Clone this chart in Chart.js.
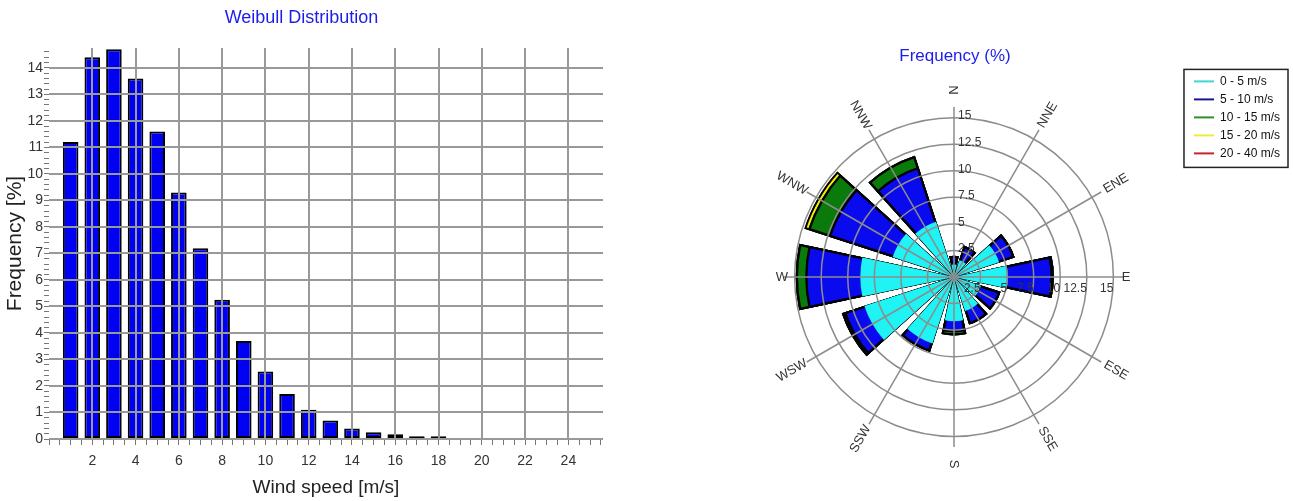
<!DOCTYPE html>
<html>
<head>
<meta charset="utf-8">
<script src="https://cdn.jsdelivr.net/npm/chart.js@4.4.1/dist/chart.umd.min.js"></script>
<style>
  html, body { margin: 0; padding: 0; background: #fff; }
  #weibull { position: absolute; left: 0; top: 0; }
  #rose { position: absolute; left: 615px; top: 0; }
</style>
</head>
<body>
<canvas id="weibull" width="616" height="501"></canvas>
<canvas id="rose" width="678" height="501"></canvas>
<script>
// --- Weibull histogram ---
const windSpeeds = [1, 2, 3, 4, 5, 6, 7, 8, 9, 10, 11, 12, 13, 14, 15, 16, 17, 18];
const frequency = [11.2, 14.4, 14.7, 13.6, 11.6, 9.3, 7.2, 5.25, 3.7, 2.55, 1.7, 1.1, 0.7, 0.4, 0.25, 0.18, 0.1, 0.1];

// --- Wind rose, % per sector for each speed bin ---
const directions = ["N", "NNE", "ENE", "E", "ESE", "SSE", "S", "SSW", "WSW", "W", "WNW", "NNW"];
const speedBins = ["0 - 5 m/s", "5 - 10 m/s", "10 - 15 m/s", "15 - 20 m/s", "20 - 40 m/s"];
const bin0to5 = [1.2, 1.7, 4.5, 5.1, 2.7, 3.4, 4.2, 6.6, 8.9, 8.85, 6.1, 5.5];
const bin5to10 = [0.8, 1.4, 1.5, 4.2, 1.9, 1.3, 1.0, 0.8, 2.0, 5.15, 6.3, 5.4];
const bin10to15 = [0, 0, 0, 0.1, 0, 0, 0.3, 0, 0.2, 0.9, 2.05, 1.1];
const bin15to20 = [0, 0, 0, 0, 0, 0, 0, 0, 0, 0, 0.35, 0];
const bin20to40 = [0, 0, 0, 0, 0, 0, 0, 0, 0, 0, 0, 0];

const fontFamily = "'Liberation Sans', Arial, sans-serif";
Chart.defaults.font.family = fontFamily;
Chart.defaults.color = "#333";

const gridGrey = "#999";
const titleBlue = "#1d1de8";

new Chart("weibull", {
  type: "bar",
  data: {
    datasets: [{
      data: windSpeeds.map((s, i) => ({ x: s, y: frequency[i] })),
      xAxisID: "x",
      yAxisID: "y",
      backgroundColor: "#0000f2",
      borderColor: "#000",
      borderWidth: 2,
      borderSkipped: false,
      barPercentage: 0.72,
      categoryPercentage: 1,
    }],
  },
  options: {
    responsive: false,
    animation: false,
    events: [],
    devicePixelRatio: 1,
    layout: { padding: { right: 13 } },
    plugins: {
      legend: { display: false },
      tooltip: { enabled: false },
      title: {
        display: true,
        text: "Weibull Distribution",
        color: titleBlue,
        font: { size: 18, weight: "normal" },
        padding: { top: 7, bottom: 19.4 },
      },
    },
    scales: {
      x: {
        type: "linear",
        position: "bottom",
        offset: false,
        weight: 1,
        min: 0,
        max: 25.6,
        ticks: {
          stepSize: 2,
          includeBounds: false,
          padding: 8,
          maxRotation: 0,
          autoSkip: false,
          font: { size: 14 },
          callback: (v) => (v === 0 ? "" : v),
        },
        grid: {
          offset: false,
          color: (c) => (c.tick && c.tick.value === 0 ? "rgba(0,0,0,0)" : gridGrey),
          lineWidth: 2,
          drawTicks: false,
          z: 1,
        },
        border: { display: false },
        title: {
          display: true,
          text: "Wind speed [m/s]",
          color: "#222",
          font: { size: 19 },
          padding: { top: 4, bottom: 2 },
        },
        afterFit: (s) => { s.height = 56; },
      },
      xMinor: {
        type: "linear",
        position: "bottom",
        offset: false,
        weight: 0,
        min: 0,
        max: 25.6,
        ticks: { display: false, stepSize: 0.5, includeBounds: false },
        grid: { offset: false, drawOnChartArea: false, tickLength: 6, color: "#777", lineWidth: 1 },
        border: { display: false },
      },
      y: {
        position: "left",
        weight: 1,
        min: 0,
        max: 14.75,
        ticks: { stepSize: 1, includeBounds: false, padding: 1, font: { size: 14 } },
        grid: { color: gridGrey, lineWidth: 2, drawTicks: false, z: 1 },
        border: { display: false },
        title: {
          display: true,
          text: "Frequency [%]",
          color: "#222",
          font: { size: 21 },
          padding: { top: 3, bottom: 0 },
        },
        afterFit: (s) => { s.width = 44; },
      },
      yMinor: {
        position: "left",
        weight: 0,
        min: 0,
        max: 14.75,
        ticks: { display: false, stepSize: 0.2, includeBounds: false },
        grid: { drawOnChartArea: false, tickLength: 5, color: "#777", lineWidth: 1 },
        border: { display: false },
      },
    },
  },
});

// stack the bins: each ring is drawn from the centre out to its cumulative value
const bins = [bin0to5, bin5to10, bin10to15, bin15to20, bin20to40];
const cumulative = bins.map((_, b) =>
  directions.map((d, i) => bins.slice(0, b + 1).reduce((sum, arr) => sum + arr[i], 0))
);
const sectorAngle = 24;
const gapAngle = 360 / directions.length - sectorAngle;
const binColors = ["#1ff3f3", "#0a0aef", "#0a7a0a", "#f2f200", "#e01010"];
const legendColors = ["#3cd6d6", "#16169a", "#2f8f2f", "#ecec3c", "#c82424"];
const binBorders = [0, 2, 2, 1.5, 1.5];

const roseText = {
  id: "roseText",
  afterDraw(chart) {
    const g = chart.scales.g;
    const ctx = chart.ctx;
    ctx.save();
    ctx.fillStyle = "#333";
    ctx.textBaseline = "middle";

    // direction names along the spokes
    ctx.font = "13px " + fontFamily;
    ctx.textAlign = "center";
    directions.forEach((name, i) => {
      const a = g.getIndexAngle(i);
      const flat = Math.abs(Math.abs(Math.sin(a)) - 1) < 1e-6;
      const p = g.getPointPosition(i, g.drawingArea + (flat ? 2 : 17));
      let rot = a - Math.PI / 2;
      if (a > Math.PI + 1e-6) rot = a - 1.5 * Math.PI;
      ctx.save();
      ctx.translate(p.x, p.y);
      ctx.rotate(rot);
      ctx.fillText(name, 0, 0);
      ctx.restore();
    });

    // ring values on the north and east axes
    ctx.font = "12px " + fontFamily;
    g.ticks.forEach((t) => {
      if (t.value <= 0) return;
      const d = g.getDistanceFromCenterForValue(t.value);
      ctx.textAlign = "left";
      ctx.fillText(t.label, g.xCenter + 4, g.yCenter - d - 1.5);
      ctx.textAlign = "right";
      ctx.fillText(t.label, g.xCenter + d, g.yCenter + 12);
    });

    // frame round the legend
    const hb = chart.legend.legendHitBoxes;
    if (hb && hb.length) {
      const left = Math.min(...hb.map((b) => b.left)) - 10;
      const top = Math.min(...hb.map((b) => b.top)) - 6;
      const right = Math.max(...hb.map((b) => b.left + b.width)) + 8;
      const bottom = Math.max(...hb.map((b) => b.top + b.height)) + 8;
      ctx.strokeStyle = "#222";
      ctx.lineWidth = 1.5;
      ctx.strokeRect(left, top, right - left, bottom - top);
    }
    ctx.restore();
  },
};

new Chart("rose", {
  type: "polarArea",
  data: {
    labels: directions.flatMap((d) => [d, ""]),
    datasets: speedBins.map((name, b) => ({
      label: name,
      data: cumulative[b].flatMap((v) => [v, 0]),
      backgroundColor: binColors[b],
      borderColor: "#000",
      borderWidth: (c) => (c.dataIndex % 2 ? 0 : binBorders[b]),
      borderAlign: "inner",
      angle: (c) => (c.dataIndex % 2 ? gapAngle : sectorAngle),
    })),
  },
  options: {
    responsive: false,
    animation: false,
    events: [],
    devicePixelRatio: 1,
    layout: { padding: { left: 107, right: 3, top: 0, bottom: 53 } },
    scales: {
      r: { display: false, min: 0, max: 16, startAngle: -sectorAngle / 2 },
      g: {
        type: "radialLinear",
        axis: "r",
        min: 0,
        max: 16,
        startAngle: 0,
        labels: directions,
        ticks: { display: false, stepSize: 2.5, includeBounds: false },
        grid: { circular: true, color: "#8c8c8c", lineWidth: 1.5, z: 1 },
        angleLines: { display: true, color: "#8c8c8c", lineWidth: 1.5 },
        pointLabels: { display: false },
      },
    },
    plugins: {
      tooltip: { enabled: false },
      title: {
        display: true,
        fullSize: false,
        text: "Frequency (%)",
        color: titleBlue,
        font: { size: 17, weight: "normal" },
        padding: { top: 46, bottom: 40.6 },
      },
      legend: {
        position: "right",
        align: "start",
        fullSize: true,
        title: { display: true, text: " ", font: { size: 12 }, padding: { top: 55, bottom: 0 } },
        labels: {
          boxWidth: 20,
          boxHeight: 2,
          padding: 6,
          color: "#111",
          font: { size: 12 },
          generateLabels: (chart) =>
            chart.data.datasets.map((ds, i) => ({
              text: ds.label,
              fillStyle: legendColors[i],
              strokeStyle: legendColors[i],
              lineWidth: 0,
              hidden: false,
              datasetIndex: i,
              fontColor: "#111",
            })),
        },
      },
    },
  },
  plugins: [roseText],
});
</script>
</body>
</html>
